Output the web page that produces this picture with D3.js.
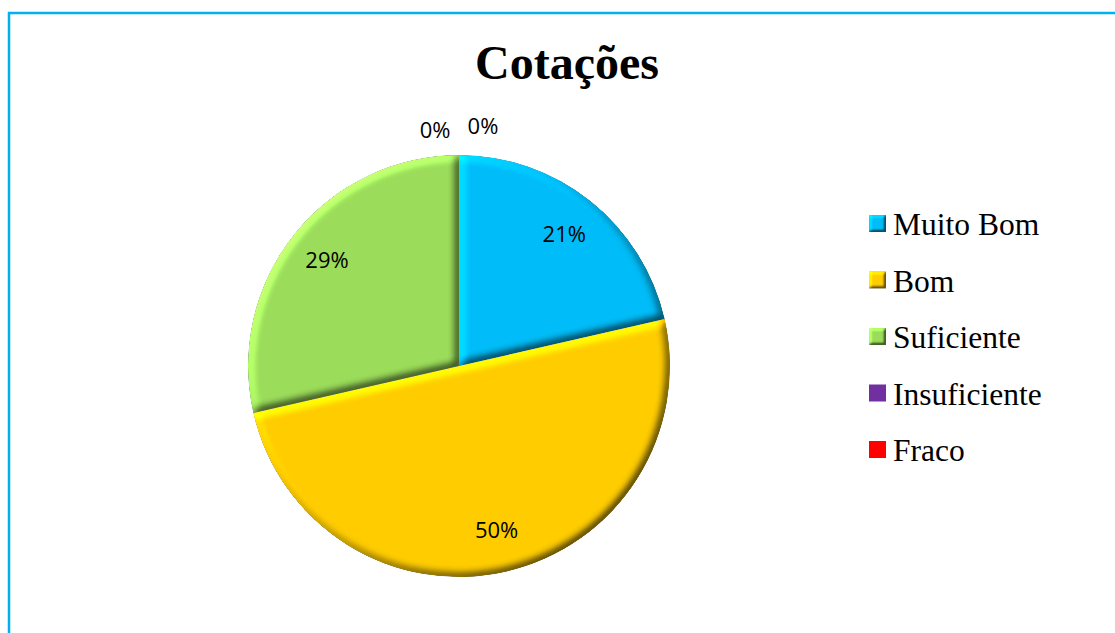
<!DOCTYPE html>
<html lang="pt">
<head>
<meta charset="utf-8">
<title>Cotações</title>
<script src="https://cdn.jsdelivr.net/npm/d3@7"></script>
<style>
  body { margin: 0; background: #fff; }
</style>
</head>
<body>
<script>
// dados (contagens -> 21%, 50%, 29%, 0%, 0%)
var categories = ["Muito Bom", "Bom", "Suficiente", "Insuficiente", "Fraco"];
var values = [3, 7, 4, 0, 0];
var colors = ["#00BCF7", "#FFCC00", "#9BDC5A", "#7030A0", "#FF0000"];
var bevelled = [true, true, true, false, false];

var width = 1115, height = 633;
var cx = 459, cy = 366, radius = 211;

var svg = d3.select("body").append("svg")
    .attr("width", width)
    .attr("height", height);

// moldura azul
svg.append("rect")
    .attr("x", 9).attr("y", 13)
    .attr("width", width + 20).attr("height", height + 20)
    .attr("fill", "none")
    .attr("stroke", "#00B0F0")
    .attr("stroke-width", 2.5);

// filtro de bisel (luz vinda de cima/esquerda)
var defs = svg.append("defs");
function bevel(id, blur, scale) {
    var f = defs.append("filter").attr("id", id)
        .attr("x", "-10%").attr("y", "-10%").attr("width", "120%").attr("height", "120%")
        .attr("color-interpolation-filters", "sRGB");
    f.append("feGaussianBlur").attr("in", "SourceAlpha").attr("stdDeviation", blur).attr("result", "blur");
    f.append("feDiffuseLighting").attr("in", "blur").attr("surfaceScale", scale)
        .attr("diffuseConstant", 0.5 / Math.sin(40 * Math.PI / 180))
        .attr("lighting-color", "#fff").attr("result", "light")
        .append("feDistantLight").attr("azimuth", 225).attr("elevation", 40);
    f.append("feComposite").attr("in", "SourceGraphic").attr("in2", "light")
        .attr("operator", "arithmetic").attr("k1", 1.1).attr("k2", 0.45).attr("k3", 0).attr("k4", 0)
        .attr("result", "lit");
    f.append("feComposite").attr("in", "lit").attr("in2", "SourceAlpha").attr("operator", "in");
}
bevel("bevel", 4, 5);
bevel("bevelSmall", 1.5, 3);

var total = d3.sum(values);
var pie = d3.pie().sort(null).value(function (d) { return d; });
var arcs = pie(values);

var arc = d3.arc().innerRadius(0).outerRadius(radius);
var labelArc = d3.arc().innerRadius(radius * 0.8).outerRadius(radius * 0.8);

var g = svg.append("g").attr("transform", "translate(" + cx + "," + cy + ")");

g.selectAll("path.slice")
    .data(arcs)
    .enter()
    .append("path")
    .attr("class", "slice")
    .attr("d", arc)
    .attr("fill", function (d, i) { return colors[i]; })
    .attr("filter", "url(#bevel)");

function pct(v) { return Math.round(v / total * 100) + "%"; }

// rótulos dentro das fatias
g.selectAll("text.inner")
    .data(arcs.filter(function (d) { return d.value > 0; }))
    .enter()
    .append("text")
    .attr("class", "inner")
    .attr("x", function (d) { return labelArc.centroid(d)[0]; })
    .attr("y", function (d) { return labelArc.centroid(d)[1]; })
    .attr("dy", "0.35em")
    .attr("text-anchor", "middle")
    .attr("font-family", "'Open Sans', sans-serif")
    .attr("font-size", 22)
    .attr("fill", "#000")
    .text(function (d) { return pct(d.value); });

// rótulos das fatias vazias (fora, no topo)
var zeros = arcs.filter(function (d) { return d.value === 0; });
g.selectAll("text.zero")
    .data(zeros)
    .enter()
    .append("text")
    .attr("class", "zero")
    .attr("x", function (d, i) { return (i === 0 ? -1 : 1) * 24; })
    .attr("y", function (d, i) { return -radius - (i === 0 ? 17 : 21); })
    .attr("text-anchor", "middle")
    .attr("font-family", "'Open Sans', sans-serif")
    .attr("font-size", 22)
    .attr("fill", "#000")
    .text(function (d) { return pct(d.value); });

// título
svg.append("text")
    .attr("x", 567).attr("y", 79)
    .attr("text-anchor", "middle")
    .attr("font-family", "'Liberation Serif', 'Times New Roman', serif")
    .attr("font-weight", "bold")
    .attr("font-size", 48)
    .text("Cotações");

// legenda
var legendY = d3.scalePoint().domain(categories).range([224, 450]);
var legend = svg.selectAll("g.legend")
    .data(categories)
    .enter()
    .append("g")
    .attr("class", "legend")
    .attr("transform", function (d) { return "translate(869," + legendY(d) + ")"; });

legend.append("rect")
    .attr("x", 0).attr("y", -9)
    .attr("width", 17).attr("height", 17)
    .attr("fill", function (d, i) { return colors[i]; })
    .attr("filter", function (d, i) { return bevelled[i] ? "url(#bevelSmall)" : null; });

legend.append("text")
    .attr("x", 24).attr("y", 11)
    .attr("font-family", "'Liberation Serif', 'Times New Roman', serif")
    .attr("font-size", 31.5)
    .attr("fill", "#000")
    .text(function (d) { return d; });
</script>
</body>
</html>
